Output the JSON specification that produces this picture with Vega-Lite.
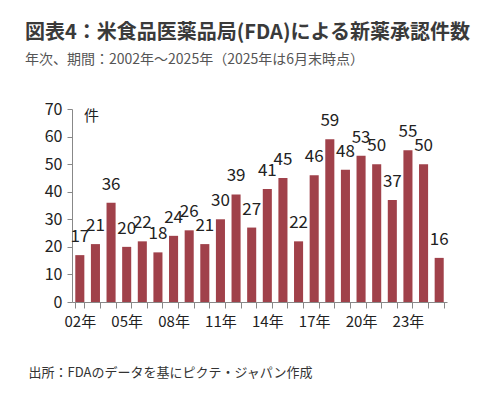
{
  "$schema": "https://vega.github.io/schema/vega-lite/v6.json",
  "width": 375,
  "height": 193,
  "autosize": {"type": "none"},
  "padding": {"left": 72, "top": 109, "right": 39, "bottom": 92},
  "background": "white",
  "title": {
    "text": "図表4：米食品医薬品局(FDA)による新薬承認件数",
    "subtitle": "年次、期間：2002年～2025年（2025年は6月末時点）",
    "anchor": "start",
    "frame": "group",
    "dx": -47,
    "offset": 34,
    "font": "Noto Sans CJK JP",
    "fontSize": 20,
    "fontWeight": "bold",
    "color": "#3a3a3a",
    "subtitleFont": "Noto Sans CJK JP",
    "subtitleFontSize": 14,
    "subtitleColor": "#555555",
    "subtitlePadding": 10
  },
  "data": {
    "values": [
      {"year": 2002, "count": 17},
      {"year": 2003, "count": 21},
      {"year": 2004, "count": 36},
      {"year": 2005, "count": 20},
      {"year": 2006, "count": 22},
      {"year": 2007, "count": 18},
      {"year": 2008, "count": 24},
      {"year": 2009, "count": 26},
      {"year": 2010, "count": 21},
      {"year": 2011, "count": 30},
      {"year": 2012, "count": 39},
      {"year": 2013, "count": 27},
      {"year": 2014, "count": 41},
      {"year": 2015, "count": 45},
      {"year": 2016, "count": 22},
      {"year": 2017, "count": 46},
      {"year": 2018, "count": 59},
      {"year": 2019, "count": 48},
      {"year": 2020, "count": 53},
      {"year": 2021, "count": 50},
      {"year": 2022, "count": 37},
      {"year": 2023, "count": 55},
      {"year": 2024, "count": 50},
      {"year": 2025, "count": 16}
    ]
  },
  "encoding": {
    "x": {
      "field": "year",
      "type": "ordinal",
      "scale": {"paddingInner": 0.42, "paddingOuter": 0.21},
      "axis": {
        "title": "出所：FDAのデータを基にピクテ・ジャパン作成",
        "titleX": -44,
        "titleY": 70,
        "titleAlign": "left",
        "titleBaseline": "middle",
        "titleFont": "Noto Sans CJK JP",
        "titleFontSize": 13,
        "titleFontWeight": "normal",
        "titleColor": "#333333",
        "labelAngle": 0,
        "labelExpr": "(datum.value - 2002) % 3 == 0 ? substring(toString(datum.value), 2) + '年' : ''",
        "labelFont": "Liberation Sans Narrow, Noto Sans CJK JP",
        "labelFontSize": 15,
        "labelColor": "#222222",
        "labelPadding": 6,
        "labelOverlap": false,
        "tickBand": "extent",
        "tickSize": 6,
        "tickColor": "#888888",
        "domainColor": "#888888"
      }
    },
    "y": {
      "field": "count",
      "type": "quantitative",
      "scale": {"domain": [0, 70]},
      "axis": {
        "title": "件",
        "titleAngle": 0,
        "titleX": 19,
        "titleY": 6,
        "titleAlign": "center",
        "titleBaseline": "middle",
        "titleFont": "Noto Sans CJK JP",
        "titleFontSize": 15,
        "titleFontWeight": "normal",
        "titleColor": "#222222",
        "values": [0, 10, 20, 30, 40, 50, 60, 70],
        "grid": false,
        "labelFont": "Liberation Sans Narrow, Noto Sans CJK JP",
        "labelFontSize": 16,
        "labelColor": "#222222",
        "labelPadding": 5,
        "tickSize": 5,
        "tickColor": "#888888",
        "domainColor": "#888888"
      }
    }
  },
  "layer": [
    {"mark": {"type": "bar", "color": "#A0414A"}},
    {
      "mark": {
        "type": "text",
        "baseline": "alphabetic",
        "dy": -13,
        "font": "Liberation Sans Narrow, Noto Sans CJK JP",
        "fontSize": 17,
        "color": "#222222"
      },
      "encoding": {"text": {"field": "count", "type": "quantitative"}}
    }
  ],
  "config": {"view": {"stroke": null}}
}
